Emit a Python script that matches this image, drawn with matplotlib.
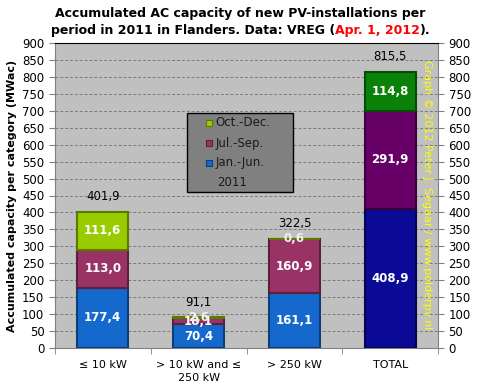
import numpy as np
import matplotlib.pyplot as plt
from matplotlib.patches import Rectangle
from matplotlib.offsetbox import TextArea, HPacker, VPacker, AnchoredOffsetbox

# Data (MWac)
categories = ["\u2264 10 kW", "> 10 kW and \u2264\n250 kW", "> 250 kW", "TOTAL"]
jan_jun = [177.4, 70.4, 161.1, 408.9]
jul_sep = [113.0, 18.1, 160.9, 291.9]
oct_dec = [111.6, 2.6, 0.6, 114.8]
totals = [401.9, 91.1, 322.5, 815.5]
periods = ["Oct.-Dec.", "Jul.-Sep.", "Jan.-Jun."]

# colours: normal bars and the TOTAL bar
col_jan = ["#1569cc", "#1569cc", "#1569cc", "#0a0a96"]
col_jul = ["#993366", "#993366", "#993366", "#660066"]
col_oct = ["#99cc00", "#99cc00", "#99cc00", "#0a820a"]
edge_jan = ["#0a3f7a", "#0a3f7a", "#0a3f7a", "#050550"]
edge_jul = ["#5c1f3d", "#5c1f3d", "#5c1f3d", "#3a003a"]
edge_oct = ["#5c7a00", "#5c7a00", "#5c7a00", "#054d05"]

def fmt(v):
    return f"{v:.1f}".replace(".", ",")

fig = plt.figure(figsize=(4.81, 3.91), dpi=100)
ax = fig.add_axes([0.114, 0.110, 0.797, 0.780])
ax.set_facecolor("#c0c0c0")

x = np.arange(len(categories))
w = 0.53
ax.bar(x, jan_jun, w, color=col_jan, edgecolor=edge_jan, linewidth=1.5, zorder=3)
ax.bar(x, jul_sep, w, bottom=jan_jun, color=col_jul, edgecolor=edge_jul, linewidth=1.5, zorder=3)
bot2 = np.array(jan_jun) + np.array(jul_sep)
ax.bar(x, oct_dec, w, bottom=bot2, color=col_oct, edgecolor=edge_oct, linewidth=1.5, zorder=3)

# segment labels
for i in range(len(x)):
    ax.text(x[i], jan_jun[i] / 2, fmt(jan_jun[i]), ha="center", va="center",
            color="white", fontsize=8.5, fontweight="bold", zorder=4)
    ax.text(x[i], jan_jun[i] + jul_sep[i] / 2, fmt(jul_sep[i]), ha="center", va="center",
            color="white", fontsize=8.5, fontweight="bold", zorder=4)
    small = oct_dec[i] < 5
    ax.text(x[i], bot2[i] + oct_dec[i] / 2, fmt(oct_dec[i]),
            ha="center", va="center", color="#f0f0f0" if small else "white",
            fontsize=8.5, fontweight="bold", zorder=4)
    ax.text(x[i], totals[i] + 25, fmt(totals[i]), ha="center", va="bottom",
            color="black", fontsize=8.5, zorder=4)

ax.set_xlim(-0.5, 3.5)
ax.set_ylim(0, 900)
ax.set_yticks(np.arange(0, 901, 50))
ax.yaxis.grid(True, color="#7a7a7a", linestyle=(0, (3, 2)), linewidth=0.7, zorder=0)
ax.tick_params(axis="y", labelsize=8.5, direction="out", length=4, color="#808080",
               right=True, labelright=True)
ax.set_xticks(x)
ax.set_xticklabels(categories, fontsize=8, linespacing=1.3)
ax.tick_params(axis="x", length=0, pad=9)
ax.set_xticks(np.arange(-0.5, 3.6, 1.0), minor=True)
ax.tick_params(axis="x", which="minor", length=4, color="#808080")
for s in ["left", "right", "bottom"]:
    ax.spines[s].set_color("#808080")
ax.spines["top"].set_color("black")

ax.set_ylabel("Accumulated capacity per category (MWac)", fontsize=8, fontweight="bold",
              labelpad=4)

# legend box drawn by hand (wide box, small vertical padding)
ax.add_patch(Rectangle((0.345, 0.511), 0.276, 0.259, transform=ax.transAxes,
                       facecolor="#808080", edgecolor="black", linewidth=1, zorder=5))
leg_cols = ["#99cc00", "#993366", "#1569cc"]
leg_edges = ["#5c7a00", "#5c1f3d", "#0a3f7a"]
rows_y = [0.738, 0.672, 0.607, 0.544]
for k in range(3):
    ax.add_patch(Rectangle((0.394, rows_y[k] - 0.011), 0.017, 0.021, transform=ax.transAxes,
                           facecolor=leg_cols[k], edgecolor=leg_edges[k], linewidth=0.8,
                           zorder=6))
    ax.text(0.419, rows_y[k], periods[k], transform=ax.transAxes, ha="left", va="center",
            fontsize=8.5, color="#1a1a1a", zorder=6)
ax.text(0.423, rows_y[3], "2011", transform=ax.transAxes, ha="left", va="center",
        fontsize=8.5, color="#1a1a1a", zorder=6)

# watermark
ax.text(0.972, 0.945, "Graph \u00a9 2012 Peter J. Segaar / www.polderpv.nl", transform=ax.transAxes,
        rotation=-90, ha="center", va="top", color="#ffff00", fontsize=8, zorder=4)

# title with red date part
tprops = dict(fontsize=9, fontweight="bold", color="black")
line1 = TextArea("Accumulated AC capacity of new PV-installations per", textprops=tprops)
l2a = TextArea("period in 2011 in Flanders. Data: VREG (", textprops=tprops)
l2b = TextArea("Apr. 1, 2012", textprops=dict(fontsize=9, fontweight="bold", color="red"))
l2c = TextArea(").", textprops=tprops)
line2 = HPacker(children=[l2a, l2b, l2c], align="baseline", pad=0, sep=0)
title = VPacker(children=[line1, line2], align="center", pad=0, sep=3)
box = AnchoredOffsetbox(loc="upper center", child=title, pad=0, frameon=False,
                        bbox_to_anchor=(0.5, 0.982), bbox_transform=fig.transFigure,
                        borderpad=0)
fig.add_artist(box)

fig.savefig("out.png", dpi=100, facecolor="white")
